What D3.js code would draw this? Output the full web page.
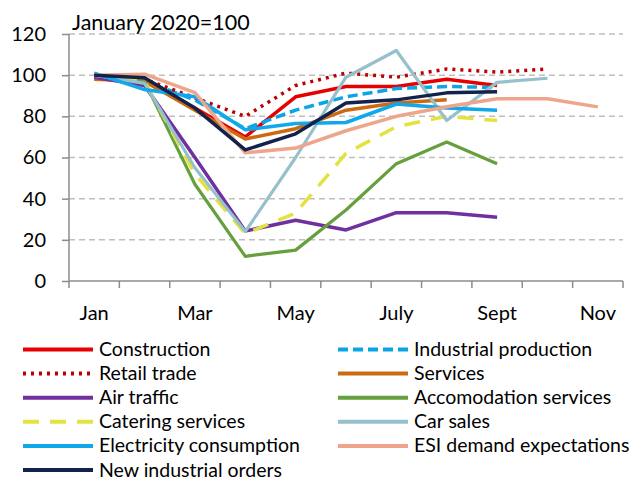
<!DOCTYPE html>
<html>
<head>
<meta charset="utf-8">
<script src="https://cdn.jsdelivr.net/npm/d3@7"></script>
<style>
  body { margin: 0; background: #fff; }
  svg text { font-family: Lato, "Open Sans", sans-serif; fill: #000; }
</style>
</head>
<body>
<svg class="chart" width="633" height="477"></svg>
<script>
// months on the x axis, labels only on every other one
var months = ["Jan", "Feb", "Mar", "Apr", "May", "Jun", "July", "Aug", "Sept", "Oct", "Nov"];
var tickLabels = ["Jan", "Mar", "May", "July", "Sept", "Nov"];
var yTicks = [0, 20, 40, 60, 80, 100, 120];

// series values, January 2020 = 100
var construction = [100, 97, 84, 70, 89.5, 94.5, 94.5, 98, 95];
var industrialProduction = [100, 97, 88, 74, 83, 89.5, 93.5, 94.5, 94];
var retailTrade = [100, 98, 89, 80, 95, 101, 99, 103, 101.5, 103];
var services = [98, 97, 83, 69, 74, 83, 86.5, 88];
var airTraffic = [99, 95, 60, 24.3, 29.5, 24.8, 33.2, 33.2, 31];
var accomodation = [100, 97, 47, 12, 15, 34.5, 57, 67.5, 57];
var catering = [100, 97, 52, 23, 33, 62, 75, 80, 78];
var carSales = [100, 96, 55, 24, 60, 99, 112, 78, 96.5, 98.5];
var electricity = [101, 93, 89.5, 73.5, 76.5, 77, 86, 84, 83];
var esiDemand = [100, 100.5, 91.5, 62.3, 64.6, 73, 80, 84.7, 88.5, 88.5, 84.6];
var newOrders = [100, 98.7, 84, 63.7, 71.5, 86.5, 88, 91.4, 92];

var series = [
  {name: "Construction", values: construction, color: "#e60000", dash: null, w: 3.5},
  {name: "Industrial production", values: industrialProduction, color: "#0aa5e6", dash: "10,5", w: 3.5},
  {name: "Retail trade", values: retailTrade, color: "#c00000", dash: "3,5", w: 3.5},
  {name: "Services", values: services, color: "#cc6a10", dash: null, w: 3.5},
  {name: "Air traffic", values: airTraffic, color: "#7030a0", dash: null, w: 3.5},
  {name: "Accomodation services", values: accomodation, color: "#65a03c", dash: null, w: 3.2},
  {name: "Catering services", values: catering, color: "#e3e340", dash: "16,11", w: 3.5},
  {name: "Car sales", values: carSales, color: "#96c1cc", dash: null, w: 3.2},
  {name: "Electricity consumption", values: electricity, color: "#10a8e8", dash: null, w: 3.5},
  {name: "ESI demand expectations", values: esiDemand, color: "#efa58c", dash: null, w: 3.5},
  {name: "New industrial orders", values: newOrders, color: "#13224a", dash: null, w: 3.5}
];

var svg = d3.select('.chart');
var margin = {top: 34, left: 69, right: 10};
var plotW = 554, plotH = 247;

var chart = svg.append('g')
  .attr('transform', 'translate(' + margin.left + ',' + margin.top + ')');

var x = d3.scaleBand().domain(months).range([0, plotW]);
var y = d3.scaleLinear().domain([0, 120]).range([plotH, 0]);

// grid lines
chart.selectAll('.grid')
  .data(yTicks.filter(function(d) { return d > 0; }))
  .enter().append('line')
  .attr('x1', 0).attr('x2', plotW)
  .attr('y1', function(d) { return y(d); })
  .attr('y2', function(d) { return y(d); })
  .attr('stroke', '#bfbfbf')
  .attr('stroke-width', 1.5)
  .attr('stroke-dasharray', '6,4');

// y axis
var yAxis = chart.append('g').call(d3.axisLeft(y).tickValues(yTicks).tickSize(7).tickPadding(16));
yAxis.select('.domain').attr('stroke', '#8c8c8c').attr('stroke-width', 1.5).attr('d', 'M0,0V' + plotH);
yAxis.selectAll('.tick line').attr('stroke', '#8c8c8c').attr('stroke-width', 1.5);
yAxis.selectAll('.tick text').style('font-size', '20px').attr('font-family', null);

// x axis, ticks between months
var xAxisG = chart.append('g').attr('transform', 'translate(0,' + plotH + ')');
xAxisG.append('line').attr('x1', 0).attr('x2', plotW)
  .attr('stroke', '#8c8c8c').attr('stroke-width', 1.5);
xAxisG.selectAll('.xt')
  .data(d3.range(months.length + 1))
  .enter().append('line')
  .attr('x1', function(i) { return i * x.step(); })
  .attr('x2', function(i) { return i * x.step(); })
  .attr('y1', 0).attr('y2', 7)
  .attr('stroke', '#8c8c8c').attr('stroke-width', 1.5);
xAxisG.selectAll('.xl')
  .data(tickLabels)
  .enter().append('text')
  .attr('x', function(d) { return x(d) + x.bandwidth() / 2; })
  .attr('y', 39)
  .attr('text-anchor', 'middle')
  .style('font-size', '20px')
  .text(function(d) { return d; });

// lines
var line = d3.line()
  .x(function(d, i) { return x(months[i]) + x.bandwidth() / 2; })
  .y(function(d) { return y(d); });

chart.selectAll('.series')
  .data(series)
  .enter().append('path')
  .attr('d', function(d) { return line(d.values); })
  .attr('fill', 'none')
  .attr('stroke', function(d) { return d.color; })
  .attr('stroke-width', function(d) { return d.w; })
  .attr('stroke-dasharray', function(d) { return d.dash; })
  .attr('stroke-linejoin', 'round');

// title
svg.append('text')
  .attr('x', 72).attr('y', 30)
  .style('font-size', '21.5px')
  .text('January 2020=100');

// legend, two columns
var legend = svg.append('g');
var items = legend.selectAll('.item')
  .data(series)
  .enter().append('g')
  .attr('transform', function(d, i) {
    return 'translate(' + (i % 2 === 0 ? 23 : 338) + ',' + (349.5 + Math.floor(i / 2) * 24.1) + ')';
  });
items.append('line')
  .attr('x1', 0).attr('x2', 70)
  .attr('stroke', function(d) { return d.color; })
  .attr('stroke-width', 4)
  .attr('stroke-dasharray', function(d) { return d.dash; });
items.append('text')
  .attr('x', 76).attr('y', 6.5)
  .style('font-size', '19.5px')
  .text(function(d) { return d.name; });
</script>
</body>
</html>
